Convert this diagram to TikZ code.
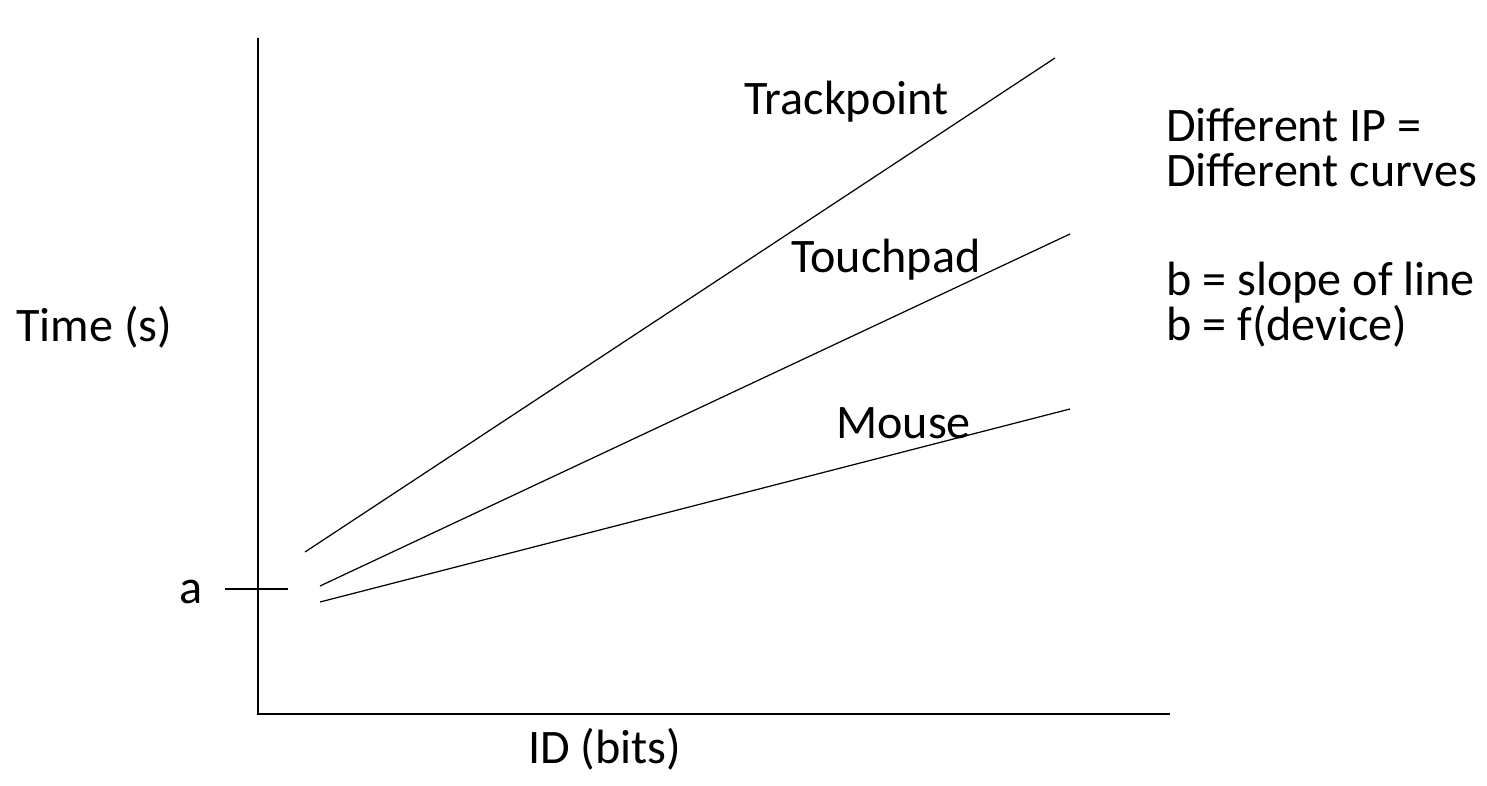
\documentclass[tikz,border=0pt]{standalone}
\usepackage{fontspec}
\setmainfont{Carlito}
\usepackage{amsmath,amssymb,amstext}

\begin{document}
\begin{tikzpicture}[x=0.02cm,y=-0.02cm,
    axis/.style={line width=1.1pt},
    curve/.style={line width=0.7pt},
    lbl/.style={anchor=base west,inner sep=0pt,text depth=0pt,font=\fontsize{27.4}{33}\selectfont}]
\useasboundingbox (0,0) rectangle (1487,786);
% axes
\coordinate (top) at (258,38);
\coordinate (origin) at (258,714);
\coordinate (right) at (1170,714);
\draw[axis] (top) -- (origin) -- (right);
\coordinate (ticka) at (225,589);
\coordinate (tickb) at (288,589);
\draw[axis] (ticka) -- (tickb);
% device lines
\foreach \name/\xa/\ya/\xb/\yb in {track/305/552/1055/58, touch/320/586/1070/234, mouse/320/602/1070/409} {
    \coordinate (\name0) at (\xa,\ya);
    \coordinate (\name1) at (\xb,\yb);
    \draw[curve] (\name0) -- (\name1);
}
% labels
\node[lbl] (trackpoint) at (744,115) {Trackpoint};
\node[lbl] (touchpad) at (791,273) {Touchpad};
\node[lbl] (mouse) at (836,439) {Mouse};
\node[lbl] (time) at (16,342) {Time (s)};
\node[lbl] (a) at (179,603) {a};
\node[lbl] (id) at (528,763) {ID (bits)};
\node[lbl] (ip) at (1166,142) {Different IP =};
\node[lbl] (curves) at (1166,187) {Different curves};
\node[lbl] (slope) at (1166,296) {b = slope of line};
\node[lbl] (fdev) at (1166,341) {b = f(device)};
\end{tikzpicture}
\end{document}
